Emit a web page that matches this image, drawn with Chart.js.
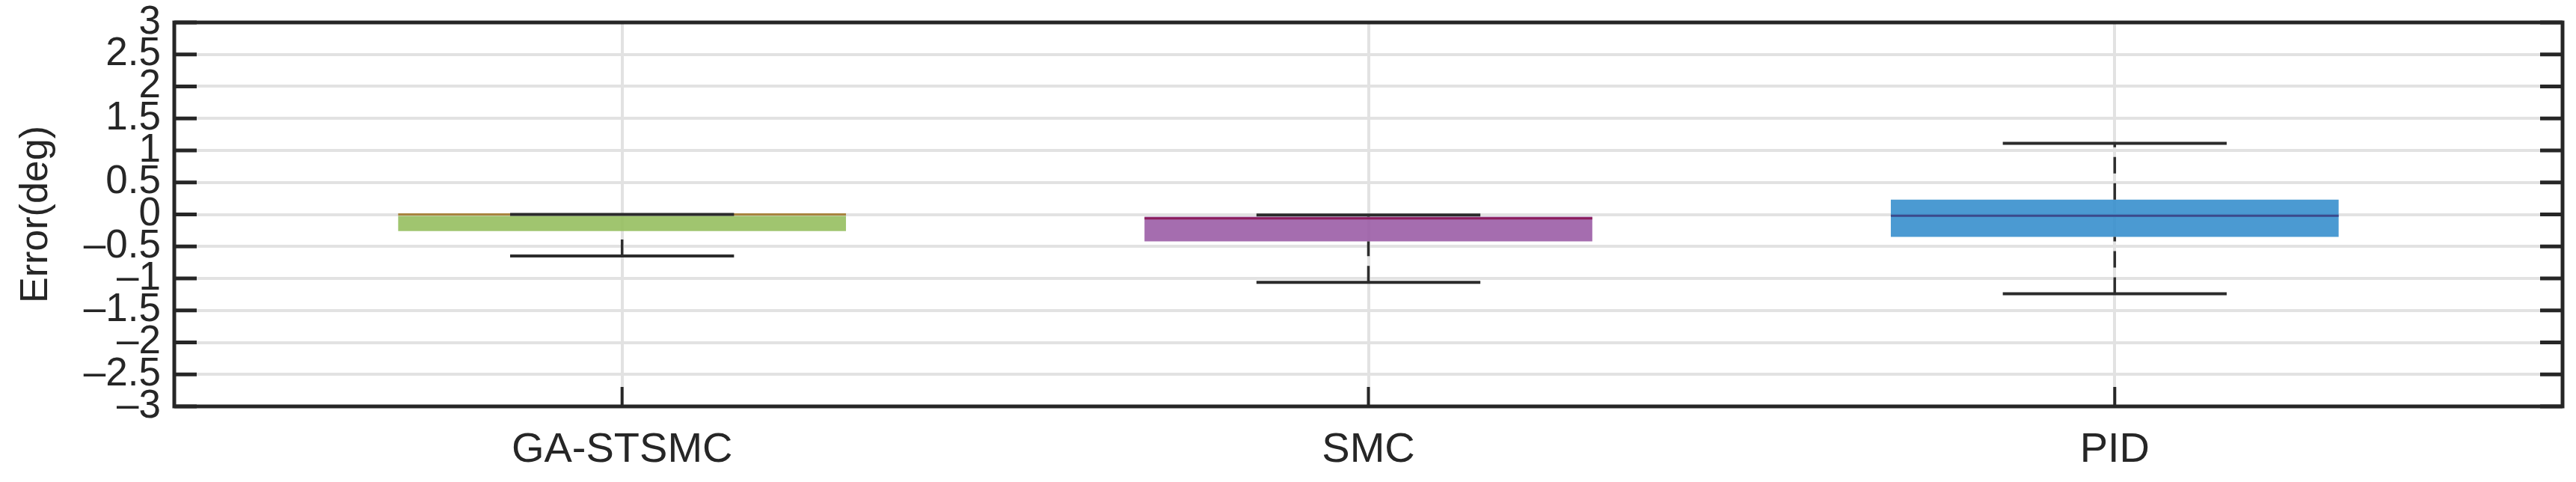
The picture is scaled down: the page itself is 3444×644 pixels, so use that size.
<!DOCTYPE html>
<html>
<head>
<meta charset="utf-8">
<script src="https://cdn.jsdelivr.net/npm/chart.js@4.4.0/dist/chart.umd.min.js"></script>
<style>
  html, body { margin: 0; padding: 0; background: #fff; }
  #wrap { width: 3444px; height: 644px; }
</style>
</head>
<body>
<div id="wrap"><canvas id="errChart"></canvas></div>
<script>
"use strict";

/*global Chart*/

// box statistics (deg)
var categories = ['GA-STSMC', 'SMC', 'PID'];
var q1 = [-0.26, -0.42, -0.35];
var q3 = [0.0, -0.035, 0.23];
var medians = [0.0, -0.06, -0.02];
var whiskerLow = [-0.65, -1.06, -1.24];
var whiskerHigh = [0.0, -0.01, 1.11];
var yTicks = [-3, -2.5, -2, -1.5, -1, -0.5, 0, 0.5, 1, 1.5, 2, 2.5, 3];

var boxColors = ['rgba(150,191,95,0.9)', 'rgba(155,93,166,0.9)', 'rgba(55,143,205,0.9)'];
var medianColors = ['#a8843f', '#8c1d5c', '#3b4a8c'];
var ink = '#262626';

var boxHalf = 0.3, capHalf = 0.15;

var medianSets = categories.map(function (c, i) {
    return {
        type: 'line',
        data: [{x: i + 1 - boxHalf, y: medians[i]}, {x: i + 1 + boxHalf, y: medians[i]}],
        borderColor: medianColors[i],
        borderWidth: 3,
        pointRadius: 0,
        order: 2
    };
});

// whiskers run upward: min -> q1, q3 -> max (so the dashes start where matlab starts them)
var whiskerPts = [], capPts = [];
categories.forEach(function (c, i) {
    var x = i + 1;
    whiskerPts.push({x: x, y: whiskerLow[i]}, {x: x, y: q1[i]}, {x: x, y: null});
    whiskerPts.push({x: x, y: q3[i]}, {x: x, y: whiskerHigh[i]}, {x: x, y: null});
    capPts.push({x: x - capHalf, y: whiskerHigh[i]}, {x: x + capHalf, y: whiskerHigh[i]}, {x: x, y: null});
    capPts.push({x: x - capHalf, y: whiskerLow[i]}, {x: x + capHalf, y: whiskerLow[i]}, {x: x, y: null});
});

// frame + inward ticks (left/right for y, bottom for x)
var frame = {
    id: 'frame',
    afterDraw: function (chart) {
        var ctx = chart.ctx, a = chart.chartArea,
            ys = chart.scales.y, xs = chart.scales.x, len = 30;
        ctx.save();
        ctx.strokeStyle = ink;
        ctx.lineWidth = 5;
        ctx.beginPath();
        yTicks.forEach(function (v) {
            var py = ys.getPixelForValue(v);
            ctx.moveTo(a.left, py); ctx.lineTo(a.left + len, py);
            ctx.moveTo(a.right, py); ctx.lineTo(a.right - len, py);
        });
        ctx.stroke();
        ctx.lineWidth = 4;
        ctx.beginPath();
        categories.forEach(function (c, i) {
            var px = xs.getPixelForValue(i + 1);
            ctx.moveTo(px, a.bottom); ctx.lineTo(px, a.bottom - 26);
        });
        ctx.stroke();
        ctx.lineWidth = 5;
        ctx.strokeRect(a.left, a.top, a.right - a.left, a.bottom - a.top);
        ctx.restore();
    }
};

var chart = new Chart(document.getElementById('errChart'), {
    type: 'bar',
    data: {
        datasets: [{
            data: categories.map(function (c, i) { return {x: i + 1, y: [q1[i], q3[i]]}; }),
            backgroundColor: boxColors,
            borderWidth: 0,
            barPercentage: 0.6,
            categoryPercentage: 1,
            order: 4
        }, {
            type: 'line',
            data: whiskerPts,
            borderColor: '#2e2e2e',
            borderWidth: 3.5,
            borderDash: [22, 13],
            pointRadius: 0,
            spanGaps: false,
            order: 3
        }].concat(medianSets, [{
            type: 'line',
            data: capPts,
            borderColor: '#2b2b2b',
            borderWidth: 4,
            pointRadius: 0,
            spanGaps: false,
            order: 1
        }])
    },
    options: {
        responsive: true,
        maintainAspectRatio: false,
        animation: false,
        layout: {padding: {top: 30, right: 18, left: 0, bottom: 0}},
        plugins: {legend: {display: false}, tooltip: {enabled: false}},
        scales: {
            x: {
                type: 'linear',
                min: 0.4,
                max: 3.6,
                offset: false,
                afterBuildTicks: function (scale) {
                    scale.ticks = categories.map(function (c, i) { return {value: i + 1}; });
                },
                afterFit: function (scale) {
                    scale.height = 101;
                    scale.paddingLeft = 0;
                    scale.paddingRight = 0;
                },
                grid: {color: '#e2e2e2', lineWidth: 4, drawTicks: false, offset: false},
                border: {display: false},
                ticks: {
                    color: ink,
                    padding: 25,
                    autoSkip: false,
                    maxRotation: 0,
                    font: {family: 'Liberation Sans', size: 56},
                    callback: function (v) { return categories[v - 1]; }
                }
            },
            y: {
                min: -3,
                max: 3,
                afterBuildTicks: function (scale) {
                    scale.ticks = yTicks.map(function (v) { return {value: v}; });
                },
                afterFit: function (scale) {
                    scale.width = 233;
                    scale.paddingTop = 0;
                    scale.paddingBottom = 0;
                },
                grid: {color: '#e2e2e2', lineWidth: 4, drawTicks: false},
                border: {display: false},
                ticks: {
                    color: ink,
                    padding: 18,
                    autoSkip: false,
                    font: {family: 'Liberation Sans', size: 53},
                    callback: function (v) { return v < 0 ? '\u2013' + Math.abs(v) : String(v); }
                },
                title: {
                    display: true,
                    text: 'Error(deg)',
                    color: ink,
                    font: {family: 'Liberation Sans', size: 52},
                    padding: {top: 17, bottom: 0}
                }
            }
        }
    },
    plugins: [frame]
});
</script>
</body>
</html>
